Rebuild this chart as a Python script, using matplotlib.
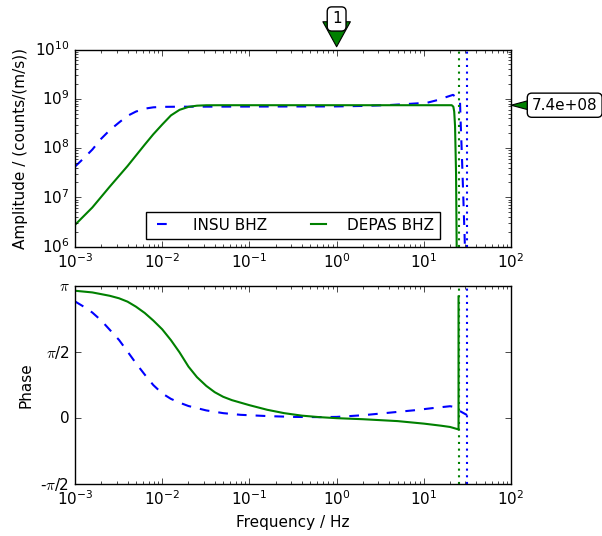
import numpy as np
import matplotlib
matplotlib.use('Agg')
import matplotlib.pyplot as plt

plt.style.use('classic')
plt.rcParams['font.size'] = 11

# amplitude response, counts/(m/s)
insu_amp_freq = [1e-3, 1.26e-3, 1.58e-3, 2.0e-3, 2.5e-3, 3.2e-3, 4.0e-3, 5.0e-3, 6.3e-3, 7.9e-3,
                 1e-2, 1.6e-2, 0.1, 1.0, 2.0, 4.0, 7.0, 10.9, 15.0, 18.0, 21.6, 24.0, 26.0,
                 26.5, 27.2, 28.2, 29.2, 29.7, 30.5]
insu_amp = [4.2e7, 6.2e7, 9.3e7, 1.55e8, 2.3e8, 3.3e8, 4.5e8, 5.5e8, 6.3e8, 6.7e8,
            6.85e8, 6.9e8, 6.95e8, 7.0e8, 7.15e8, 7.45e8, 7.9e8, 8.3e8, 9.6e8, 1.08e9, 1.2e9, 1.05e9, 8.5e8,
            3e8, 8.7e7, 1.35e7, 2.1e6, 8e5, 1e5]

depas_amp_freq = [1e-3, 1.58e-3, 2.5e-3, 4.0e-3, 6.3e-3, 7.9e-3, 1e-2, 1.26e-2, 1.58e-2,
                  2.0e-2, 2.5e-2, 3.2e-2, 5e-2, 0.1, 1.0, 10.0, 20.9, 21.8, 22.3, 22.8, 23.4, 23.8, 24.5]
depas_amp = [2.75e6, 6.2e6, 1.64e7, 4.3e7, 1.17e8, 1.9e8, 3.0e8, 4.6e8, 5.96e8,
             6.84e8, 7.24e8, 7.38e8, 7.4e8, 7.4e8, 7.4e8, 7.4e8, 7.4e8, 6.9e8, 5.5e8, 2.8e8, 3.2e7, 1e6, 1e4]

# phase response, radians
insu_phase_freq = [1e-3, 1.26e-3, 1.58e-3, 2.0e-3, 2.5e-3, 3.2e-3, 4.0e-3, 5.0e-3, 6.3e-3, 7.9e-3,
                   1e-2, 1.26e-2, 1.58e-2, 2.0e-2, 3.2e-2, 5.0e-2, 7.9e-2, 0.16, 0.32, 0.63,
                   1.0, 2.0, 4.0, 7.9, 12.6, 20.0, 22.0, 24.9, 28.0, 31.25]
insu_phase = [2.785, 2.66, 2.52, 2.33, 2.11, 1.865, 1.59, 1.31, 1.04, 0.79,
              0.59, 0.46, 0.37, 0.29, 0.185, 0.12, 0.08, 0.05, 0.03, 0.025,
              0.03, 0.07, 0.13, 0.19, 0.24, 0.285, 0.27, 0.19, 0.13, 0.075]

depas_phase_freq = [1e-3, 1.58e-3, 2.5e-3, 3.2e-3, 4.0e-3, 5.0e-3, 6.3e-3, 7.9e-3, 1e-2, 1.26e-2,
                    1.58e-2, 2.0e-2, 2.5e-2, 3.2e-2, 4.0e-2, 5.0e-2, 6.3e-2, 0.1, 0.16, 0.25,
                    0.4, 0.63, 1.0, 2.0, 5.0, 10.0, 15.8, 20.0, 24.2, 25.0, 25.0]
depas_phase = [3.04, 3.00, 2.92, 2.86, 2.78, 2.66, 2.51, 2.33, 2.12, 1.86,
               1.57, 1.23, 0.98, 0.77, 0.62, 0.51, 0.43, 0.31, 0.20, 0.12,
               0.06, 0.025, 0.0, -0.025, -0.07, -0.13, -0.18, -0.21, -0.26, -0.27, 2.9]

labels = ['INSU BHZ', 'DEPAS BHZ']
nyquist = [31.25, 25.0]
ref_freq = 1.0
sensitivity = 7.4e8

fig = plt.figure(figsize=(6.02, 5.36), dpi=100, facecolor='white')
ax1 = fig.add_axes([0.1246, 0.5401, 0.7243, 0.3675])
ax2 = fig.add_axes([0.1246, 0.0970, 0.7243, 0.3685], sharex=ax1)

ax1.loglog(insu_amp_freq, insu_amp, color='b', ls='--', dashes=(7, 6.5), lw=1.5, label=labels[0])
ax1.loglog(depas_amp_freq, depas_amp, color='g', lw=1.5, label=labels[1])
ax2.semilogx(insu_phase_freq, insu_phase, color='b', ls='--', dashes=(7, 6.5), lw=1.5)
ax2.semilogx(depas_phase_freq, depas_phase, color='g', lw=1.5)

# nyquist frequencies
for ax in (ax1, ax2):
    ax.axvline(nyquist[0], color='b', ls=':', dashes=(1.5, 3.3), lw=1.5)
    ax.axvline(nyquist[1], color='g', ls=':', dashes=(1.5, 3.3), lw=1.5)

ax1.set_xlim(1e-3, 1e2)
ax1.set_ylim(1e6, 1e10)
ax2.set_ylim(-np.pi / 2, np.pi)
ax2.set_yticks([-np.pi / 2, 0, np.pi / 2, np.pi])
ax2.set_yticklabels([r'-$\pi$/2', '0', r'$\pi$/2', r'$\pi$'])

ax1.set_ylabel('Amplitude / (counts/(m/s))')
ax2.set_ylabel('Phase')
ax2.set_xlabel('Frequency / Hz')

ax1.legend(loc='lower center', ncol=2, fontsize=11, handlelength=1.57,
           borderpad=0.4, columnspacing=2.6, handletextpad=1.08)

# reference frequency and sensitivity markers
box = dict(boxstyle='round,pad=0.3', fc='w', ec='k')
ax1.annotate('%g' % ref_freq, xy=(ref_freq, 1.0), xycoords=('data', 'axes fraction'),
             xytext=(0, 22), textcoords='offset points', ha='center', va='center',
             fontsize=11, bbox=box, annotation_clip=False,
             arrowprops=dict(arrowstyle='wedge,tail_width=1.8', fc='g', ec='k', lw=0.8,
                             patchA=None, shrinkB=2))
ax1.annotate('%.1e' % sensitivity, xy=(1.0, sensitivity), xycoords=('axes fraction', 'data'),
             xytext=(15, 0), textcoords='offset points', ha='left', va='center',
             fontsize=11, bbox=box, annotation_clip=False,
             arrowprops=dict(arrowstyle='wedge,tail_width=1.2', fc='g', ec='k', lw=0.8,
                             patchA=None, shrinkB=0, relpos=(0.25, 0.5)))

fig.savefig('out.png', dpi=100, facecolor='white')
